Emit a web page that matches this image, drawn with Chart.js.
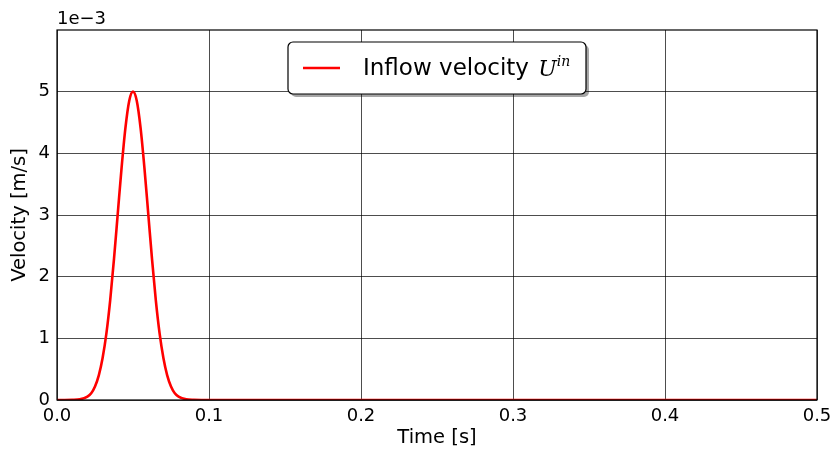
<!DOCTYPE html>
<html>
<head>
<meta charset="utf-8">
<script src="https://cdn.jsdelivr.net/npm/chart.js@4"></script>
<style>
  html, body { margin: 0; padding: 0; background: #fff; }
  #wrap { width: 830px; height: 450px; }
</style>
</head>
<body>
<div id="wrap"><canvas id="chart" width="830" height="450"></canvas></div>
<script>
// time [s] and inflow velocity [m/s]
const times = [0, 0.005, 0.01, 0.015, 0.02, 0.0225, 0.025, 0.0275, 0.03, 0.0325, 0.035, 0.0375, 0.04, 0.0425, 0.045, 0.0475,
    0.05, 0.0525, 0.055, 0.0575, 0.06, 0.0625, 0.065, 0.0675, 0.07, 0.0725, 0.075, 0.0775, 0.08, 0.085, 0.09, 0.095, 0.1, 0.2, 0.3, 0.4, 0.5];
const velocity = [0, 0, 0.0000017, 0.000011, 0.000056, 0.00011, 0.00022, 0.0004, 0.00068, 0.00108, 0.00162, 0.00229, 0.00303, 0.00377, 0.00441, 0.00485,
    0.005, 0.00485, 0.00441, 0.00377, 0.00303, 0.00229, 0.00162, 0.00108, 0.00068, 0.0004, 0.00022, 0.00011, 0.000056, 0.000011, 0.0000017, 0, 0, 0, 0, 0, 0];
const xTicks = [0, 0.1, 0.2, 0.3, 0.4, 0.5];
const yTicks = [0, 1, 2, 3, 4, 5];
const legendLabel = 'Inflow velocity ';

const FONT = "'DejaVu Sans', sans-serif";

const points = times.map((t, i) => ({ x: t, y: velocity[i] }));

// frame, offset text and legend box drawn on top
const decorations = {
    id: 'decorations',
    afterDraw(chart) {
        const { ctx, chartArea: a } = chart;
        ctx.save();
        ctx.strokeStyle = '#000';
        ctx.lineWidth = 1.2;
        ctx.strokeRect(a.left, a.top, a.right - a.left, a.bottom - a.top);

        ctx.fillStyle = '#000';
        ctx.font = '18px ' + FONT;
        ctx.textBaseline = 'alphabetic';
        ctx.textAlign = 'left';
        ctx.fillText('1e\u22123', a.left, a.top - 6);

        // legend
        const bx = 288, by = 42, bw = 298, bh = 52, r = 5;
        const box = (x, y) => {
            ctx.beginPath();
            ctx.roundRect(x, y, bw, bh, r);
        };
        ctx.fillStyle = 'rgba(0,0,0,0.35)';
        box(bx + 3, by + 3);
        ctx.fill();
        ctx.fillStyle = '#fff';
        box(bx, by);
        ctx.fill();
        ctx.strokeStyle = '#000';
        ctx.lineWidth = 1.2;
        ctx.stroke();

        ctx.strokeStyle = '#ff0000';
        ctx.lineWidth = 2.6;
        ctx.beginPath();
        ctx.moveTo(303, 68);
        ctx.lineTo(340, 68);
        ctx.stroke();

        ctx.fillStyle = '#000';
        ctx.font = '23px ' + FONT;
        ctx.textBaseline = 'middle';
        ctx.fillText(legendLabel, 363, 69);
        let x = 363 + ctx.measureText(legendLabel).width + 2;
        ctx.font = 'italic 22px "DejaVu Serif", serif';
        ctx.fillText('U', x, 70);
        x += ctx.measureText('U').width;
        ctx.font = 'italic 14px "DejaVu Serif", serif';
        ctx.fillText('in', x, 62);
        ctx.restore();
    }
};

new Chart(document.getElementById('chart').getContext('2d'), {
    type: 'line',
    data: {
        datasets: [{
            label: 'Inflow velocity',
            data: points,
            borderColor: '#ff0000',
            borderWidth: 2.6,
            pointRadius: 0,
            fill: false,
            cubicInterpolationMode: 'monotone'
        }]
    },
    options: {
        responsive: false,
        animation: false,
        layout: { padding: { top: 30, right: 13, left: 0, bottom: 0 } },
        plugins: { legend: { display: false }, tooltip: { enabled: false } },
        scales: {
            x: {
                type: 'linear',
                min: 0,
                max: 0.5,
                afterBuildTicks: s => { s.ticks = xTicks.map(v => ({ value: v })); },
                afterFit: s => { s.height = 50; s.paddingLeft = 0; s.paddingRight = 0; },
                grid: { color: '#000', lineWidth: 0.7, drawTicks: false },
                border: { display: false },
                ticks: {
                    color: '#000',
                    font: { family: FONT, size: 18 },
                    padding: 6,
                    maxRotation: 0,
                    callback: v => v === 0 ? '0.0' : String(v)
                },
                title: {
                    display: true,
                    text: 'Time [s]',
                    color: '#000',
                    font: { family: FONT, size: 19.5 },
                    padding: { top: 0, bottom: 0 }
                }
            },
            y: {
                type: 'linear',
                min: 0,
                max: 0.006,
                afterBuildTicks: s => { s.ticks = yTicks.map(v => ({ value: v / 1000 })); },
                afterFit: s => { s.width = 57; s.paddingTop = 0; s.paddingBottom = 0; },
                grid: { color: '#000', lineWidth: 0.7, drawTicks: false },
                border: { display: false },
                ticks: {
                    color: '#000',
                    font: { family: FONT, size: 18 },
                    padding: 7,
                    callback: v => String(Math.round(v * 1000))
                },
                title: {
                    display: true,
                    text: 'Velocity [m/s]',
                    color: '#000',
                    font: { family: FONT, size: 19.5 },
                    padding: { top: 8, bottom: 0 }
                }
            }
        }
    },
    plugins: [decorations]
});
</script>
</body>
</html>
